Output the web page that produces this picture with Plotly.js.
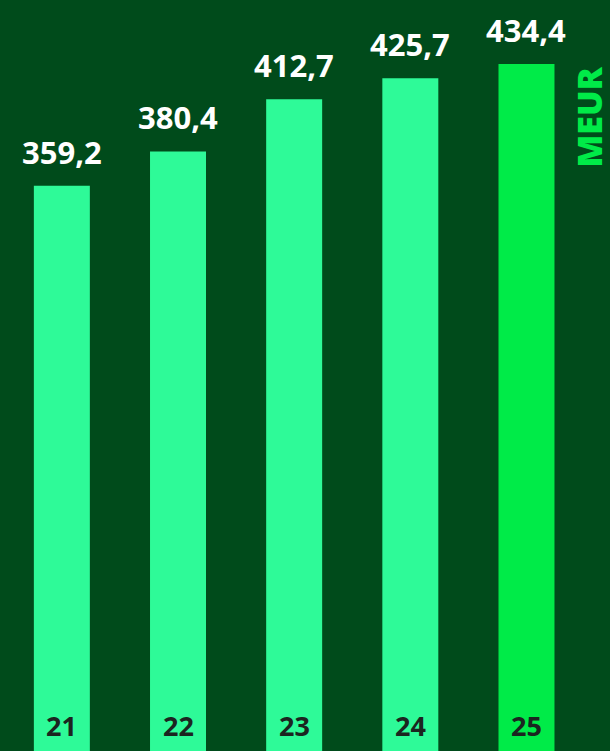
<!DOCTYPE html>
<html>
<head>
<meta charset="utf-8">
<script src="https://cdn.plot.ly/plotly-3.0.1.min.js"></script>
<style>html,body{margin:0;padding:0;background:#004b1b;}#chart{width:610px;height:751px;}</style>
</head>
<body>
<div id="chart"></div>
<script>
const categories = ["21", "22", "23", "24", "25"];
const values = [359.2, 380.4, 412.7, 425.7, 434.4];
const valueLabels = ["359,2", "380,4", "412,7", "425,7", "434,4"];
const barColors = ["#2efa98", "#2efa98", "#2efa98", "#2efa98", "#00eb48"];
const unitLabel = "MEUR";

const font = "'Open Sans', 'Liberation Sans', sans-serif";

const annotations = [];
categories.forEach((c, i) => {
  annotations.push({
    x: i, y: values[i], xref: "x", yref: "y",
    text: valueLabels[i], showarrow: false,
    yanchor: "bottom", xanchor: "center", yshift: 11,
    font: {family: font, size: 31, color: "#ffffff", weight: 700}
  });
  annotations.push({
    x: i, y: 0, xref: "x", yref: "paper",
    text: c, showarrow: false,
    yanchor: "bottom", xanchor: "center", yshift: 5,
    font: {family: font, size: 27, color: "#1b2520", weight: 700}
  });
});
annotations.push({
  x: 589/610, y: 1 - 117.5/751, xref: "paper", yref: "paper",
  text: unitLabel, showarrow: false, textangle: -90,
  xanchor: "center", yanchor: "middle",
  font: {family: font, size: 34, color: "#00eb48", weight: 800}
});

const trace = {
  type: "bar", x: categories, y: values,
  marker: {color: barColors, line: {width: 0}},
  width: 0.482, hoverinfo: "none"
};

const layout = {
  width: 610, height: 751,
  margin: {l: 0, r: 0, t: 0, b: 0, pad: 0},
  paper_bgcolor: "#004b1b", plot_bgcolor: "#004b1b",
  showlegend: false,
  xaxis: {type: "category", range: [-0.5325, 4.719], showticklabels: false, showgrid: false, zeroline: false, showline: false, ticks: ""},
  yaxis: {range: [9.8, 474.0], showticklabels: false, showgrid: false, zeroline: false, showline: false, ticks: ""},
  annotations: annotations
};

Plotly.newPlot("chart", [trace], layout, {staticPlot: true, displayModeBar: false});
</script>
</body>
</html>
